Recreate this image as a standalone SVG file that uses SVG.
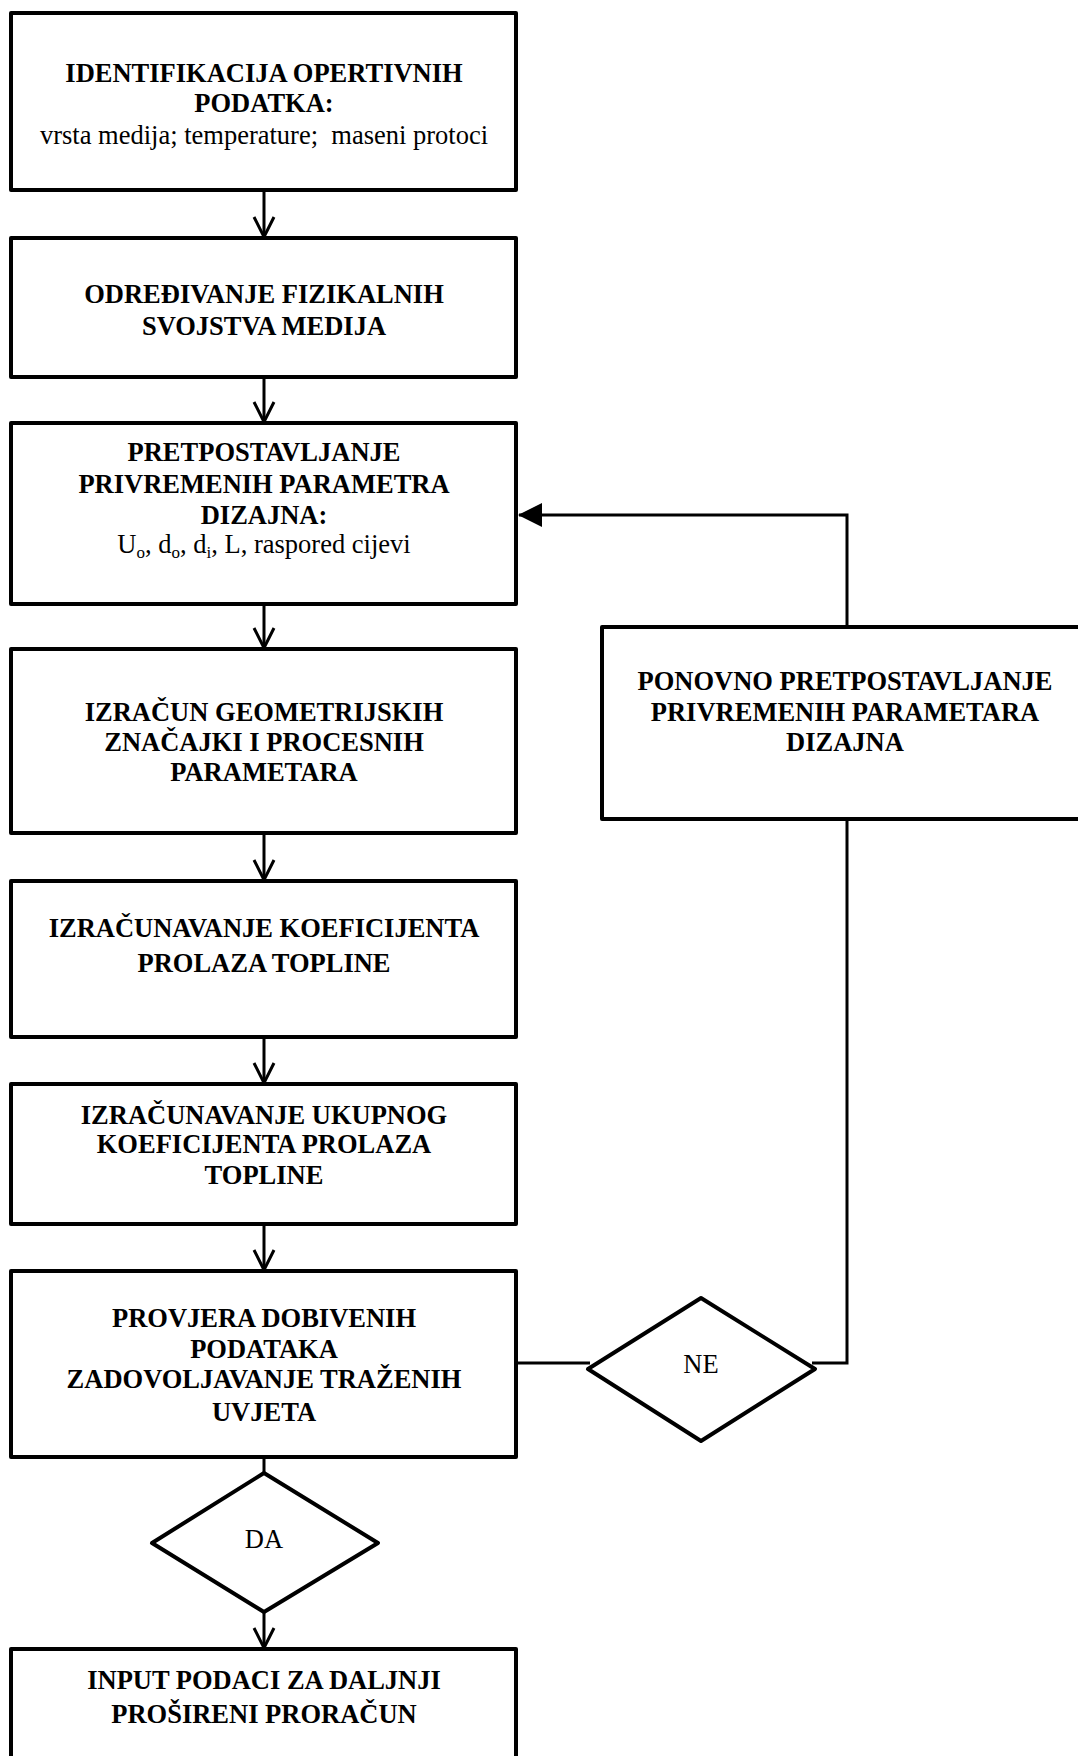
<svg xmlns="http://www.w3.org/2000/svg" width="1078" height="1756" viewBox="0 0 1078 1756">
<style>
.box{fill:#fff;stroke:#000;stroke-width:4;stroke-linejoin:round}
.dia{fill:#fff;stroke:#000;stroke-width:4;stroke-linejoin:round}
.con{fill:none;stroke:#000;stroke-width:3}
text{font-family:"Liberation Serif","Times New Roman",serif;font-size:26.5px;text-anchor:middle;fill:#000;white-space:pre}
.b{font-weight:bold}
</style>
<defs>
<marker id="v" viewBox="-2 -12 26 24" markerWidth="26" markerHeight="24" refX="20" refY="0" orient="auto" markerUnits="userSpaceOnUse">
<path d="M0,-10 L20,0 L0,10" fill="none" stroke="#000" stroke-width="3"/>
</marker>
<marker id="f" viewBox="0 -13 24 26" markerWidth="24" markerHeight="26" refX="23" refY="0" orient="auto" markerUnits="userSpaceOnUse">
<path d="M0,-12 L24,0 L0,12 Z" fill="#000"/>
</marker>
</defs>
<rect width="1078" height="1756" fill="#fff"/>
<g id="connectors">
<line class="con" x1="264" y1="190" x2="264" y2="237" marker-end="url(#v)"/>
<line class="con" x1="264" y1="377" x2="264" y2="422" marker-end="url(#v)"/>
<line class="con" x1="264" y1="604" x2="264" y2="648" marker-end="url(#v)"/>
<line class="con" x1="264" y1="833" x2="264" y2="880" marker-end="url(#v)"/>
<line class="con" x1="264" y1="1037" x2="264" y2="1083" marker-end="url(#v)"/>
<line class="con" x1="264" y1="1224" x2="264" y2="1270" marker-end="url(#v)"/>
<line class="con" x1="264" y1="1457" x2="264" y2="1473"/>
<line class="con" x1="264" y1="1612" x2="264" y2="1648" marker-end="url(#v)"/>
<line class="con" x1="516" y1="1363" x2="590" y2="1363"/>
<polyline class="con" points="812,1363 847,1363 847,819"/>
<polyline class="con" points="847,627 847,515 519,515" marker-end="url(#f)"/>
</g>
<g id="n1"><rect class="box" x="11" y="13" width="505" height="177"/>
<text class="b" x="264" y="82">IDENTIFIKACIJA OPERTIVNIH</text>
<text class="b" x="264" y="112">PODATKA:</text>
<text x="264" y="144">vrsta medija; temperature;  maseni protoci</text></g>
<g id="n2"><rect class="box" x="11" y="238" width="505" height="139"/>
<text class="b" x="264" y="303">ODREĐIVANJE FIZIKALNIH</text>
<text class="b" x="264" y="335">SVOJSTVA MEDIJA</text></g>
<g id="n3"><rect class="box" x="11" y="423" width="505" height="181"/>
<text class="b" x="264" y="461">PRETPOSTAVLJANJE</text>
<text class="b" x="264" y="493">PRIVREMENIH PARAMETRA</text>
<text class="b" x="264" y="524">DIZAJNA:</text>
<text x="264" y="553">U<tspan font-size="17" dy="5">o</tspan><tspan dy="-5">, d</tspan><tspan font-size="17" dy="5">o</tspan><tspan dy="-5">, d</tspan><tspan font-size="17" dy="5">i</tspan><tspan dy="-5">, L, raspored cijevi</tspan></text></g>
<g id="n4"><rect class="box" x="11" y="649" width="505" height="184"/>
<text class="b" x="264" y="721">IZRAČUN GEOMETRIJSKIH</text>
<text class="b" x="264" y="751">ZNAČAJKI I PROCESNIH</text>
<text class="b" x="264" y="781">PARAMETARA</text></g>
<g id="n5"><rect class="box" x="11" y="881" width="505" height="156"/>
<text class="b" x="264" y="937">IZRAČUNAVANJE KOEFICIJENTA</text>
<text class="b" x="264" y="972">PROLAZA TOPLINE</text></g>
<g id="n6"><rect class="box" x="11" y="1084" width="505" height="140"/>
<text class="b" x="264" y="1124">IZRAČUNAVANJE UKUPNOG</text>
<text class="b" x="264" y="1153">KOEFICIJENTA PROLAZA</text>
<text class="b" x="264" y="1184">TOPLINE</text></g>
<g id="n7"><rect class="box" x="11" y="1271" width="505" height="186"/>
<text class="b" x="264" y="1327">PROVJERA DOBIVENIH</text>
<text class="b" x="264" y="1358">PODATAKA</text>
<text class="b" x="264" y="1388">ZADOVOLJAVANJE TRAŽENIH</text>
<text class="b" x="264" y="1421">UVJETA</text></g>
<g id="da"><polygon class="dia" points="264,1473 378,1543 264,1612 152,1543"/>
<text x="264" y="1548">DA</text></g>
<g id="ne"><polygon class="dia" points="701,1298 815,1369 701,1441 588,1369"/>
<text x="701" y="1373">NE</text></g>
<g id="n8"><rect class="box" x="11" y="1649" width="505" height="130"/>
<text class="b" x="264" y="1689">INPUT PODACI ZA DALJNJI</text>
<text class="b" x="264" y="1723">PROŠIRENI PRORAČUN</text></g>
<g id="n9"><rect class="box" x="602" y="627" width="490" height="192"/>
<text class="b" x="845" y="690">PONOVNO PRETPOSTAVLJANJE</text>
<text class="b" x="845" y="721">PRIVREMENIH PARAMETARA</text>
<text class="b" x="845" y="751">DIZAJNA</text></g>
</svg>
